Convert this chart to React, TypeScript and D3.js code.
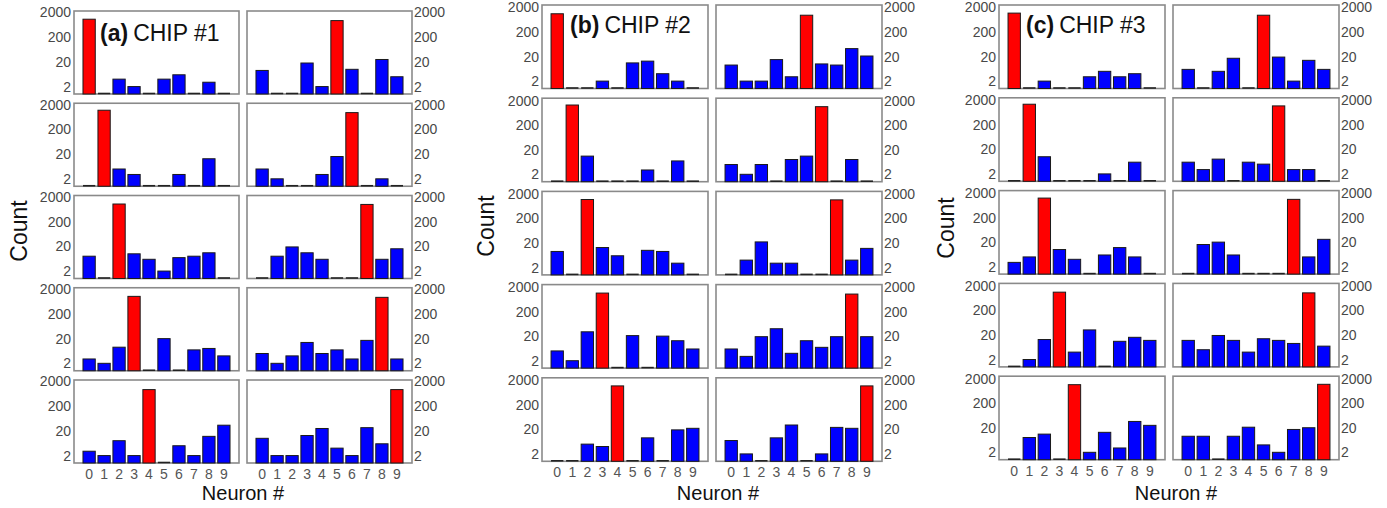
import React, { useEffect, useRef } from 'react';
import * as d3 from 'd3';

// counts per neuron (0-9), one list per presented digit
const neurons = ['0', '1', '2', '3', '4', '5', '6', '7', '8', '9'];
const yTicks = [2, 20, 200, 2000];

const chip1 = [
  [1070, 0, 4, 2, 0, 4, 6, 0, 3, 0],
  [0, 1200, 5, 3, 0, 0, 3, 0, 13, 0],
  [8, 0, 1040, 10, 6, 2, 7, 8, 11, 0],
  [3, 2, 9, 1030, 0, 20, 0, 7, 8, 4],
  [3, 2, 8, 2, 940, 0, 5, 2, 12, 34],
  [9, 0, 0, 18, 2, 940, 10, 0, 25, 5],
  [5, 2, 0, 0, 3, 16, 960, 0, 2, 0],
  [0, 8, 19, 11, 6, 0, 0, 1000, 6, 16],
  [5, 2, 4, 14, 5, 7, 3, 17, 940, 3],
  [10, 2, 2, 13, 25, 4, 2, 27, 6, 940],
];

const chip2 = [
  [1100, 0, 0, 2, 0, 11, 13, 4, 2, 0],
  [0, 1320, 11, 0, 0, 0, 3, 0, 7, 0],
  [9, 0, 1170, 13, 6, 0, 10, 9, 3, 0],
  [5, 2, 30, 1130, 0, 21, 0, 20, 13, 6],
  [0, 0, 5, 4, 1170, 0, 9, 0, 19, 22],
  [9, 2, 2, 15, 3, 960, 10, 9, 42, 21],
  [5, 2, 5, 0, 8, 11, 1130, 0, 8, 0],
  [0, 4, 22, 3, 3, 0, 0, 1130, 4, 12],
  [6, 3, 19, 40, 4, 13, 7, 19, 1030, 19],
  [7, 2, 0, 9, 30, 0, 2, 24, 22, 1170],
];

const chip3 = [
  [1170, 0, 2, 0, 0, 3, 5, 3, 4, 0],
  [0, 1370, 10, 0, 0, 0, 2, 0, 6, 0],
  [3, 5, 1240, 10, 4, 0, 6, 12, 5, 0],
  [0, 2, 13, 1100, 4, 32, 0, 11, 16, 12],
  [0, 8, 11, 0, 1130, 2, 13, 3, 36, 25],
  [6, 0, 5, 17, 0, 960, 19, 2, 14, 6],
  [6, 3, 8, 0, 6, 5, 1170, 3, 3, 0],
  [0, 16, 20, 6, 0, 0, 0, 1100, 5, 26],
  [12, 5, 19, 12, 4, 14, 12, 9, 1030, 7],
  [9, 9, 0, 9, 21, 4, 2, 17, 20, 1170],
];

const chipLetters = ['(a)', '(b)', '(c)'];
const chipNames = ['CHIP #1', 'CHIP #2', 'CHIP #3'];
const chipData = [chip1, chip2, chip3];

// layout of each chip block
const layouts = [
  { left: 74, pw: 165, gap: 8, top: 11, pitch: 92.25, ph: 83, yMax: 2300, titleX: 100, titleY: 41, countX: 27, countY: 231, neuronX: 243 },
  { left: 542, pw: 166, gap: 8, top: 5, pitch: 93.2, ph: 83.5, yMax: 2500, titleX: 570, titleY: 33, countX: 494, countY: 226, neuronX: 718 },
  { left: 999, pw: 166, gap: 8, top: 5, pitch: 92.8, ph: 83.5, yMax: 2500, titleX: 1026, titleY: 33, countX: 954, countY: 228, neuronX: 1176 },
];

const App = () => {
  const ref = useRef<SVGSVGElement>(null);

  useEffect(() => {
    const svg = d3.select(ref.current);
    svg.selectAll('*').remove();
    const font = 'Arial, "Liberation Sans", sans-serif';

    chipData.forEach((chip, ci) => {
      const L = layouts[ci];
      const g = svg.append('g');

      chip.forEach((counts, digit) => {
        const col = digit < 5 ? 0 : 1;
        const row = digit % 5;
        const x0 = L.left + col * (L.pw + L.gap);
        const top = L.top + row * L.pitch;
        const base = top + L.ph;

        const x = d3.scaleBand().domain(neurons).range([x0, x0 + L.pw]).paddingInner(0.18).paddingOuter(0.6);
        const y = d3.scaleLog().domain([1, L.yMax]).range([base, top]).clamp(true);

        const p = g.append('g');
        p.append('rect')
          .attr('x', x0).attr('y', top).attr('width', L.pw).attr('height', L.ph)
          .attr('fill', 'white').attr('stroke', '#8a8a8a').attr('stroke-width', 1.6);

        const data = counts.map((v, i) => ({ n: neurons[i], v }));

        p.selectAll('rect.bar')
          .data(data.filter(d => d.v > 1))
          .enter().append('rect')
          .attr('class', 'bar')
          .attr('x', d => x(d.n))
          .attr('width', x.bandwidth())
          .attr('y', d => y(d.v))
          .attr('height', d => base - y(d.v))
          .attr('fill', d => (+d.n === digit ? '#ff0000' : '#0000ff'))
          .attr('stroke', '#1a1a1a').attr('stroke-width', 1);

        p.selectAll('line.zero')
          .data(data.filter(d => d.v <= 1))
          .enter().append('line')
          .attr('class', 'zero')
          .attr('x1', d => x(d.n)).attr('x2', d => x(d.n) + x.bandwidth())
          .attr('y1', base - 0.5).attr('y2', base - 0.5)
          .attr('stroke', '#222').attr('stroke-width', 1.6);

        // y tick labels, outer side of each column
        p.selectAll('text.yt')
          .data(yTicks)
          .enter().append('text')
          .attr('class', 'yt')
          .attr('x', col === 0 ? x0 - 3 : x0 + L.pw + 2)
          .attr('y', d => y(d) + 5)
          .attr('text-anchor', col === 0 ? 'end' : 'start')
          .style('font-family', font).style('font-size', '14px').style('fill', '#484848')
          .text(d => d);

        if (row === 4) {
          p.selectAll('text.xt')
            .data(neurons)
            .enter().append('text')
            .attr('class', 'xt')
            .attr('x', d => x(d) + x.bandwidth() / 2)
            .attr('y', base + 16)
            .attr('text-anchor', 'middle')
            .style('font-family', font).style('font-size', '14px').style('fill', '#555')
            .text(d => d);
        }
      });

      const title = g.append('text')
        .attr('x', L.titleX).attr('y', L.titleY)
        .style('font-family', font).style('font-size', '23px').style('fill', '#111');
      title.append('tspan').style('font-weight', '700').text(chipLetters[ci]);
      title.append('tspan').attr('dx', 5).text(chipNames[ci]);

      g.append('text')
        .attr('transform', `translate(${L.countX},${L.countY}) rotate(-90)`)
        .attr('text-anchor', 'middle')
        .style('font-family', font).style('font-size', '23px').style('fill', '#111')
        .text('Count');

      g.append('text')
        .attr('x', L.neuronX).attr('y', 500)
        .attr('text-anchor', 'middle')
        .style('font-family', font).style('font-size', '20px').style('fill', '#111')
        .text('Neuron #');
    });
  });

  return (
    <svg ref={ref} width="1387" height="508" style={{ position: 'absolute', left: 0, top: 0, background: 'white' }}></svg>
  );
};

export default App;
